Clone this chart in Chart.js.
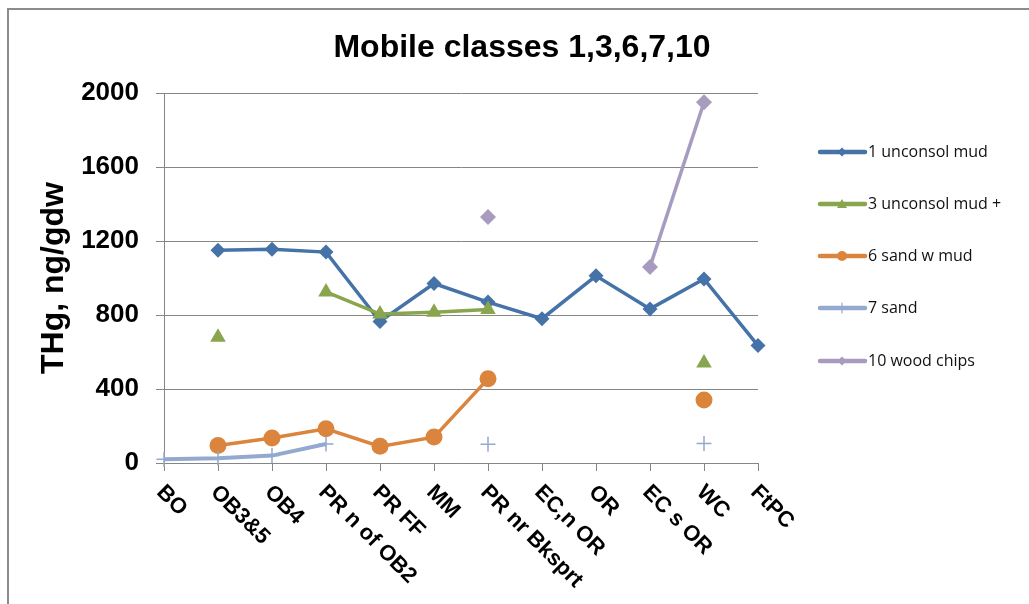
<!DOCTYPE html>
<html>
<head>
<meta charset="utf-8">
<title>Mobile classes 1,3,6,7,10</title>
<script src="https://cdn.jsdelivr.net/npm/chart.js@4"></script>
<style>
  body { margin: 0; background: #fff; }
  #wrap { position: relative; width: 1029px; height: 604px; }
</style>
</head>
<body>
<div id="wrap"><canvas id="chart" width="1029" height="604"></canvas></div>
<script>
const sites = ['BO', 'OB3&5', 'OB4', 'PR n of OB2', 'PR FF', 'MM', 'PR nr Bksprt', 'EC,n OR', 'OR', 'EC s OR', 'WC', 'FtPC'];
const seriesNames = ['1 unconsol mud', '3 unconsol mud +', '6 sand w mud', '7 sand', '10 wood chips'];
const unconsolMud = [null, 1150, 1155, 1140, 765, 970, 870, 780, 1012, 833, 995, 635];
const unconsolMudPlus = [null, 680, null, 925, 805, 815, 830, null, null, null, 540, null];
const sandWithMud = [null, 95, 135, 185, 90, 140, 455, null, null, null, 340, null];
const sand = [20, 26, 40, 103, null, null, 101, null, null, null, 106, null];
const woodChips = [null, null, null, null, null, null, 1330, null, null, 1060, 1950, null];
const yTicks = [0, 400, 800, 1200, 1600, 2000];

const colors = ['#4572A7', '#89A54E', '#DB843D', '#93A9CF', '#A89BC0'];
const gridColor = '#868686';

function makeSet(i, data, style, radius, extra) {
  return Object.assign({
    label: seriesNames[i],
    data: data,
    borderColor: colors[i],
    backgroundColor: colors[i],
    borderWidth: 3.5,
    pointStyle: style,
    pointRadius: radius,
    pointHoverRadius: radius,
    pointBorderWidth: 0,
    pointBackgroundColor: colors[i],
    pointBorderColor: colors[i],
    spanGaps: false,
    tension: 0,
    clip: false,
    order: 5 - i
  }, extra || {});
}

// frame, title, rotated x labels and the legend
const decorations = {
  id: 'decorations',
  beforeDraw(chart) {
    const ctx = chart.ctx;
    ctx.save();
    ctx.fillStyle = '#fff';
    ctx.fillRect(0, 0, chart.width, chart.height);
    ctx.strokeStyle = '#8c8c8c';
    ctx.lineWidth = 2;
    ctx.beginPath();
    ctx.moveTo(8, chart.height);
    ctx.lineTo(8, 9);
    ctx.lineTo(chart.width, 9);
    ctx.stroke();
    ctx.restore();
  },
  afterDraw(chart) {
    const ctx = chart.ctx;
    const x = chart.scales.x;
    ctx.save();
    ctx.fillStyle = '#000';
    ctx.font = 'bold 32px "Liberation Sans", Arial, sans-serif';
    ctx.textAlign = 'center';
    ctx.textBaseline = 'alphabetic';
    ctx.fillText('Mobile classes 1,3,6,7,10', 522, 57);

    ctx.font = 'bold 22px "Liberation Sans", Arial, sans-serif';
    ctx.textAlign = 'left';
    ctx.textBaseline = 'middle';
    sites.forEach((s, i) => {
      const px = x.getPixelForTick(i);
      ctx.save();
      ctx.translate(px - 4, x.top + 26);
      ctx.rotate(Math.PI / 4);
      ctx.fillText(s, 0, 0);
      ctx.restore();
    });

    // legend
    const legendY = [152, 204, 256, 308, 361];
    chart.data.datasets.forEach((ds, i) => {
      const y = legendY[i];
      ctx.strokeStyle = colors[i];
      ctx.lineWidth = 4.5;
      ctx.lineCap = 'round';
      ctx.beginPath();
      ctx.moveTo(820, y);
      ctx.lineTo(865, y);
      ctx.stroke();
      drawMarker(ctx, ds.pointStyle, 842, y, colors[i]);
      ctx.fillStyle = '#111';
      ctx.font = '16px "Open Sans", sans-serif';
      ctx.textAlign = 'left';
      ctx.textBaseline = 'middle';
      ctx.fillText(ds.label, 868, y);
    });
    ctx.restore();
  }
};

function drawMarker(ctx, style, x, y, color) {
  ctx.save();
  ctx.fillStyle = color;
  ctx.strokeStyle = color;
  ctx.beginPath();
  if (style === 'rectRot') {
    ctx.moveTo(x, y - 4.5); ctx.lineTo(x + 4.5, y); ctx.lineTo(x, y + 4.5); ctx.lineTo(x - 4.5, y);
    ctx.closePath(); ctx.fill();
  } else if (style === 'triangle') {
    ctx.moveTo(x, y - 5); ctx.lineTo(x + 5, y + 4); ctx.lineTo(x - 5, y + 4);
    ctx.closePath(); ctx.fill();
  } else if (style === 'circle') {
    ctx.arc(x, y, 5, 0, Math.PI * 2); ctx.fill();
  } else {
    ctx.lineWidth = 1.2;
    ctx.moveTo(x, y - 5); ctx.lineTo(x, y + 5); ctx.stroke();
  }
  ctx.restore();
}

new Chart(document.getElementById('chart'), {
  type: 'line',
  data: {
    labels: sites,
    datasets: [
      makeSet(0, unconsolMud, 'rectRot', 7.5),
      makeSet(1, unconsolMudPlus, 'triangle', 9),
      makeSet(2, sandWithMud, 'circle', 8.5),
      makeSet(3, sand, 'cross', 7.5, { borderWidth: 4, pointBorderWidth: 1.5 }),
      makeSet(4, woodChips, 'rectRot', 8)
    ]
  },
  options: {
    responsive: false,
    animation: false,
    layout: { padding: { left: 10, top: 93, right: 271, bottom: 0 } },
    plugins: {
      legend: { display: false },
      title: { display: false },
      tooltip: { enabled: false }
    },
    scales: {
      x: {
        type: 'category',
        offset: false,
        grid: { drawOnChartArea: false, drawTicks: true, tickLength: 8, color: gridColor },
        border: { color: gridColor, width: 1 },
        ticks: { display: false },
        afterFit(scale) { scale.height = 141; }
      },
      y: {
        min: 0,
        max: 2000,
        afterBuildTicks(scale) { scale.ticks = yTicks.map(v => ({ value: v })); },
        grid: { color: gridColor, tickLength: 8 },
        border: { color: gridColor, width: 1 },
        ticks: {
          color: '#000',
          padding: 17,
          callback: v => String(v),
          font: { family: '"Liberation Sans", Arial, sans-serif', size: 26, weight: 'bold' }
        },
        title: {
          display: true,
          text: 'THg, ng/gdw',
          color: '#000',
          padding: { top: 25, bottom: 0 },
          font: { family: '"Liberation Sans", Arial, sans-serif', size: 32, weight: 'bold' }
        },
        afterFit(scale) { scale.width = 154; }
      }
    }
  },
  plugins: [decorations]
});
</script>
</body>
</html>
